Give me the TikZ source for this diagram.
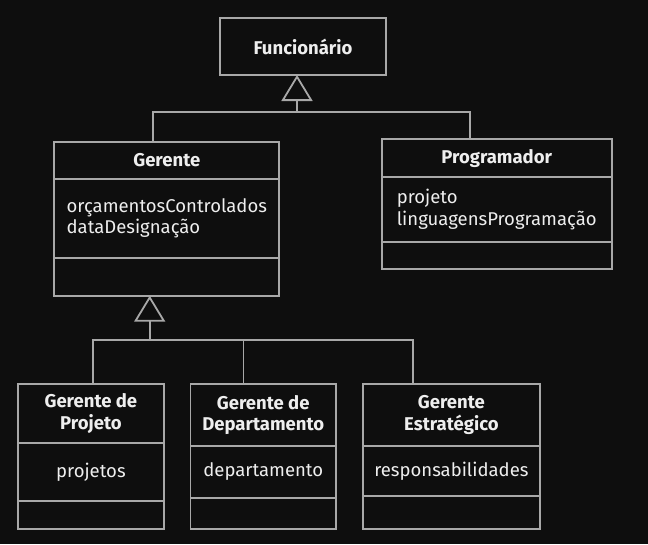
\documentclass[tikz,border=0pt]{standalone}
\usepackage{fontspec}
\setmainfont{Fira Sans}
\usetikzlibrary{positioning, arrows.meta}
\definecolor{bg}{HTML}{0E0E0E}
\definecolor{umlline}{HTML}{A8A8A8}
\definecolor{umltext}{HTML}{EEEEEE}

\begin{document}
\begin{tikzpicture}[x=1pt, y=-1pt,
  box/.style={draw=umlline, line width=1.8pt, outer sep=0pt, inner sep=2pt,
    text=umltext, font=\fontsize{18.5}{21.7}\selectfont},
  classname/.style={box, font=\fontsize{18.5}{21.7}\selectfont\bfseries, align=center},
  classpart/.style={box, align=left},
  link/.style={draw=umlline, line width=1.8pt},
  gen/.style={link, -{Triangle[open, length=26pt, width=31pt]}}]
\fill[bg] (0,0) rectangle (648,544);
\useasboundingbox (0,0) rectangle (648,544);

\node[classname, minimum width=166pt, minimum height=57pt, anchor=north] (fun) at (303,18) {Funcionário};

\node[classname, minimum width=225pt, minimum height=37.3pt, anchor=north] (ger) at (166.8,141.7) {Gerente};
\node[classpart, minimum width=225pt, minimum height=78.7pt, below=0pt of ger] (gerattr) {orçamentosControlados\\dataDesignação};
\node[classpart, minimum width=225pt, minimum height=38pt, below=0pt of gerattr] (gerops) {};

\node[classname, minimum width=230pt, minimum height=38pt, anchor=north] (prog) at (496.7,139.3) {Programador};
\node[classpart, minimum width=230pt, minimum height=64.4pt, below=0pt of prog] (progattr) {projeto\\linguagensProgramação};
\node[classpart, minimum width=230pt, minimum height=27.6pt, below=0pt of progattr] (progops) {};

\node[classname, minimum width=145.4pt, minimum height=59pt, anchor=north] (gp) at (90.9,384.3) {Gerente de\\Projeto};
\node[classpart, align=center, minimum width=145.4pt, minimum height=57.7pt, below=0pt of gp] (gpattr) {projetos};
\node[classpart, minimum width=145.4pt, minimum height=28pt, below=0pt of gpattr] (gpops) {};

\node[classname, minimum width=145.5pt, minimum height=61.4pt, anchor=north] (gd) at (263.25,384.3) {Gerente de\\Departamento};
\node[classpart, align=center, minimum width=145.5pt, minimum height=52.6pt, below=0pt of gd] (gdattr) {departamento};
\node[classpart, minimum width=145.5pt, minimum height=30.7pt, below=0pt of gdattr] (gdops) {};

\node[classname, minimum width=177.2pt, minimum height=61.7pt, anchor=north] (ge) at (451.4,384.3) {Gerente\\Estratégico};
\node[classpart, align=center, minimum width=177.2pt, minimum height=50pt, below=0pt of ge] (geattr) {responsabilidades};
\node[classpart, minimum width=177.2pt, minimum height=33pt, below=0pt of geattr] (geops) {};

% generalizacao: Funcionario
\coordinate (jtop) at (297,112);
\coordinate (jger) at (152.7,112);
\coordinate (jprog) at (470,112);
\draw[gen] (jtop) -- (jtop |- fun.south);
\draw[link] (jger |- ger.north) -- (jger) -- (jprog) -- (jprog |- prog.north);

% generalizacao: Gerente
\coordinate (jbot) at (149.7,340);
\coordinate (jgp) at (92.7,340);
\coordinate (jgd) at (243.5,340);
\coordinate (jge) at (413.3,340);
\draw[gen] (jbot) -- (jbot |- gerops.south);
\draw[link] (jgp |- gp.north) -- (jgp) -- (jge) -- (jge |- ge.north);
\draw[link] (jgd) -- (jgd |- gd.north);
\end{tikzpicture}
\end{document}
